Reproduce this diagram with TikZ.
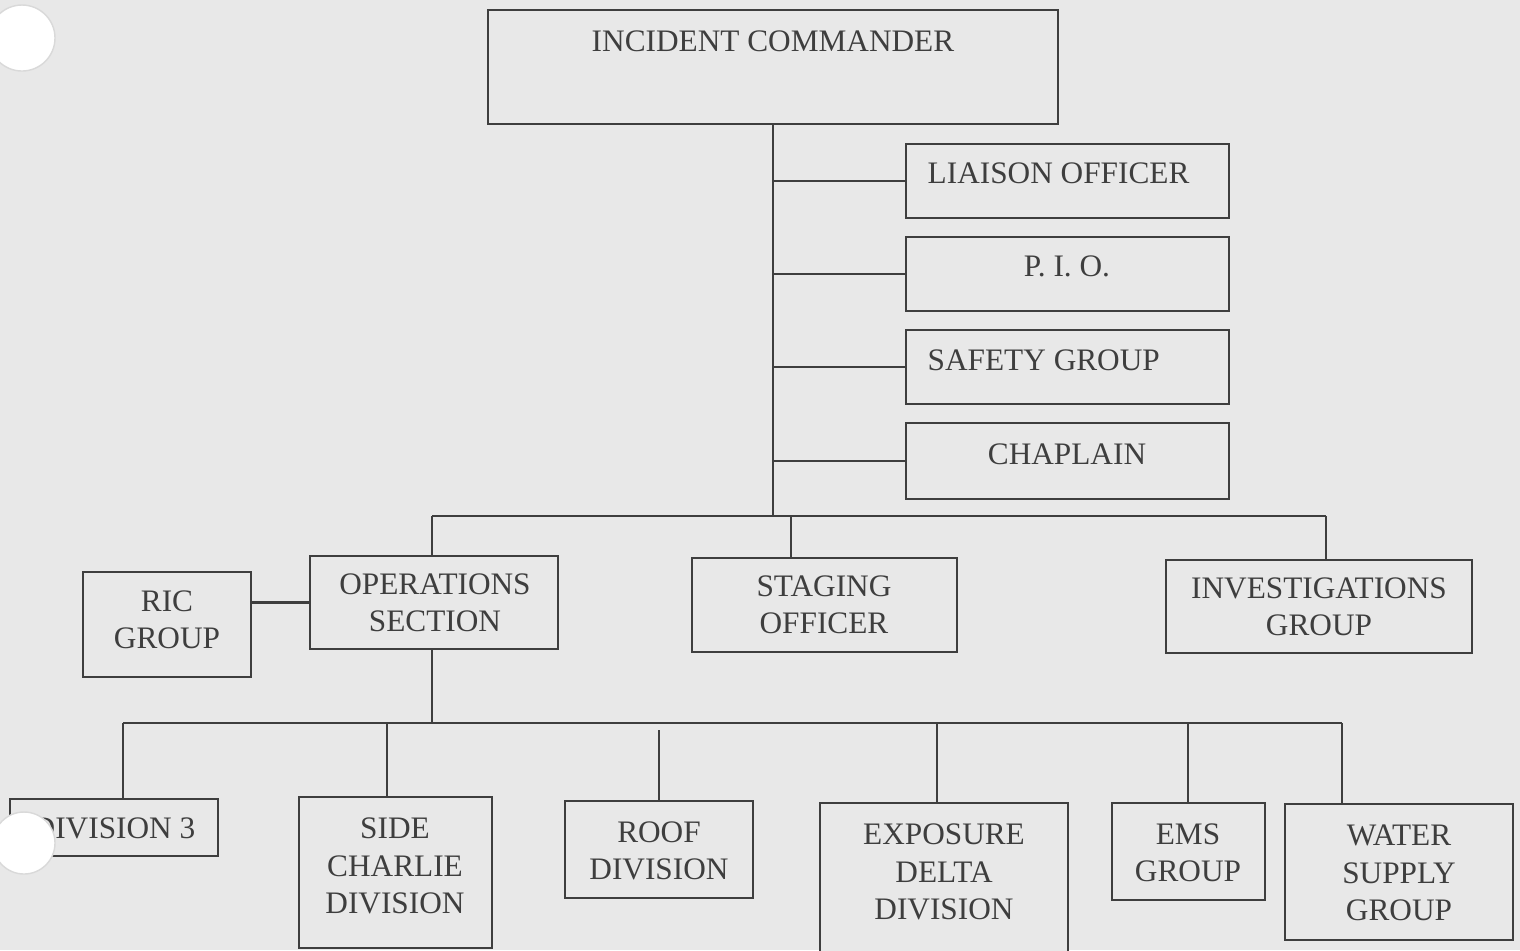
\documentclass[tikz,border=0pt]{standalone}
\usepackage{fontspec}
\setmainfont{Liberation Serif}
\usetikzlibrary{positioning, calc}

\definecolor{paper}{RGB}{232,232,232}
\definecolor{ink}{RGB}{62,62,62}

\begin{document}
\begin{tikzpicture}[x=0.01cm, y=-0.01cm,
    box/.style={draw=ink, line width=0.6pt, fill=paper, inner sep=0pt},
    txt/.style={text=ink, align=center, inner sep=0pt, font=\fontsize{8.9}{10.6}\selectfont},
    link/.style={draw=ink, line width=0.6pt}]
    % 背景与打孔
    \useasboundingbox (0,0) rectangle (1520,950);
    \fill[paper] (0,0) rectangle (1520,950);

    % 指挥层
    \node[box, minimum width=5.70cm, minimum height=1.14cm] (ic) at (773,67) {};
    \node[txt] (ict) at (773,41) {INCIDENT COMMANDER};

    % 右侧参谋
    \node[box, minimum width=3.23cm, minimum height=0.74cm] (lo) at (1067.5,181) {};
    \node[txt, anchor=west] (lot) at (927,173) {LIAISON OFFICER};
    \node[box, minimum width=3.23cm, minimum height=0.74cm] (pio) at (1067.5,274) {};
    \node[txt] (piot) at (1067,266) {P. I. O.};
    \node[box, minimum width=3.23cm, minimum height=0.74cm] (sg) at (1067.5,367) {};
    \node[txt, anchor=west] (sgt) at (927,360) {SAFETY GROUP};
    \node[box, minimum width=3.23cm, minimum height=0.76cm] (ch) at (1067.5,461) {};
    \node[txt] (cht) at (1067,454) {CHAPLAIN};

    % 第二层
    \node[box, minimum width=2.48cm, minimum height=0.93cm] (ops) at (434,602.5) {};
    \node[txt] (opst) at (435,603) {OPERATIONS\\SECTION};
    \node[box, minimum width=1.68cm, minimum height=1.05cm] (ric) at (167,624.5) {};
    \node[txt] (rict) at (167,620) {RIC\\GROUP};
    \node[box, minimum width=2.65cm, minimum height=0.94cm] (stg) at (824.5,605) {};
    \node[txt] (stgt) at (824,605) {STAGING\\OFFICER};
    \node[box, minimum width=3.06cm, minimum height=0.93cm] (inv) at (1319,606.5) {};
    \node[txt] (invt) at (1319,607) {INVESTIGATIONS\\GROUP};

    % 第三层
    \node[box, minimum width=2.08cm, minimum height=0.57cm] (div) at (114,827.5) {};
    \node[txt] (divt) at (114,828) {DIVISION 3};
    \node[box, minimum width=1.93cm, minimum height=1.51cm] (sc) at (395.5,872.5) {};
    \node[txt] (sct) at (395,866) {SIDE\\CHARLIE\\DIVISION};
    \node[box, minimum width=1.88cm, minimum height=0.97cm] (roof) at (659,849.5) {};
    \node[txt] (rooft) at (659,851) {ROOF\\DIVISION};
    \node[box, minimum width=2.48cm, minimum height=1.60cm] (exp) at (944,883) {};
    \node[txt] (expt) at (944,872) {EXPOSURE\\DELTA\\DIVISION};
    \node[box, minimum width=1.53cm, minimum height=0.97cm] (ems) at (1188.5,851.5) {};
    \node[txt] (emst) at (1188,853) {EMS\\GROUP};
    \node[box, minimum width=2.28cm, minimum height=1.36cm] (ws) at (1399,872) {};
    \node[txt] (wst) at (1399,873) {WATER\\SUPPLY\\GROUP};

    % 连线
    \coordinate (bar1) at (773,516);
    \coordinate (b1l) at (432,516);
    \coordinate (b1m) at (791,516);
    \coordinate (b1r) at (1326,516);
    \draw[link] (ic.south) -- (bar1);
    \foreach \n in {lo, pio, sg, ch}
      \draw[link] (ic.south |- \n.west) -- (\n.west);
    \draw[link] (b1l) -- (b1r);
    \draw[link] (b1l) -- (b1l |- ops.north);
    \draw[link] (b1m) -- (b1m |- stg.north);
    \draw[link] (b1r) -- (b1r |- inv.north);
    \draw[link] (ops.west) -- (ops.west -| ric.east);

    \coordinate (bar2) at (432,723);
    \coordinate (d1) at (123,723);
    \coordinate (d2) at (387,723);
    \coordinate (d3) at (659,730);
    \coordinate (d4) at (937,723);
    \coordinate (d5) at (1188,723);
    \coordinate (d6) at (1342,723);
    \draw[link] (bar2 |- ops.south) -- (bar2);
    \draw[link] (d1) -- (d6);
    \draw[link] (d1) -- (d1 |- div.north);
    \draw[link] (d2) -- (d2 |- sc.north);
    \draw[link] (d3) -- (d3 |- roof.north);
    \draw[link] (d4) -- (d4 |- exp.north);
    \draw[link] (d5) -- (d5 |- ems.north);
    \draw[link] (d6) -- (d6 |- ws.north);

    % 打孔
    \fill[white, draw=black!15] (22,38) circle (33);
    \fill[white, draw=black!15] (24,843) circle (31);
\end{tikzpicture}
\end{document}
